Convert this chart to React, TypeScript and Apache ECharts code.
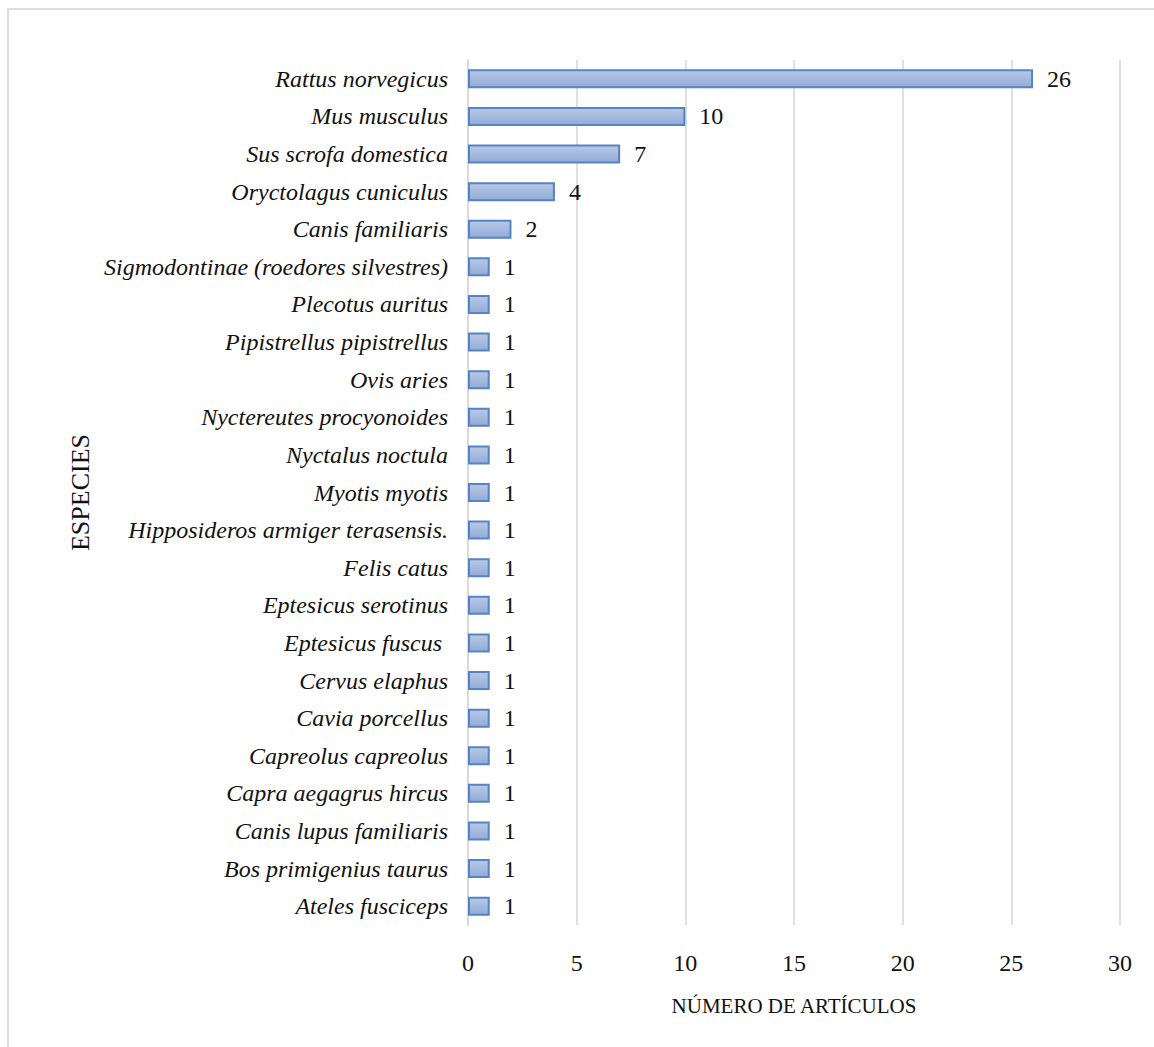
import React, { useEffect, useRef } from "react";
import * as echarts from "echarts";

const categories = [
  "Rattus norvegicus",
  "Mus musculus",
  "Sus scrofa domestica",
  "Oryctolagus cuniculus",
  "Canis familiaris",
  "Sigmodontinae (roedores silvestres)",
  "Plecotus auritus",
  "Pipistrellus pipistrellus",
  "Ovis aries",
  "Nyctereutes procyonoides",
  "Nyctalus noctula",
  "Myotis myotis",
  "Hipposideros armiger terasensis.",
  "Felis catus",
  "Eptesicus serotinus",
  "Eptesicus fuscus ",
  "Cervus elaphus",
  "Cavia porcellus",
  "Capreolus capreolus",
  "Capra aegagrus hircus",
  "Canis lupus familiaris",
  "Bos primigenius taurus",
  "Ateles fusciceps",
];

const articleCounts = [26, 10, 7, 4, 2, 1, 1, 1, 1, 1, 1, 1, 1, 1, 1, 1, 1, 1, 1, 1, 1, 1, 1];

const xTitle = "NÚMERO DE ARTÍCULOS";
const yTitle = "ESPECIES";

export default function App() {
  const ref = useRef<HTMLDivElement>(null);
  useEffect(() => {
    if (!ref.current) return;
    const chart = echarts.init(ref.current, null, { renderer: "svg" });
    const serif = "'Liberation Serif', 'DejaVu Serif', serif";
    chart.setOption({
      animation: false,
      backgroundColor: "#ffffff",
      graphic: [
        {
          type: "rect",
          shape: { x: 8, y: 9, width: 1300, height: 1200 },
          style: { fill: "none", stroke: "#dedede", lineWidth: 2 },
          silent: true,
        },
      ],
      grid: { left: 468, right: 34, top: 60, bottom: 122, containLabel: false },
      xAxis: {
        type: "value",
        min: 0,
        max: 30,
        interval: 5,
        name: xTitle,
        nameLocation: "middle",
        nameGap: 70,
        nameTextStyle: { fontFamily: serif, fontSize: 21, color: "#111" },
        axisLine: { show: false },
        axisTick: { show: false },
        axisLabel: { fontFamily: serif, fontSize: 24, color: "#111", margin: 26 },
        splitLine: { show: true, lineStyle: { color: "#e0e0e0", width: 2 } },
      },
      yAxis: {
        type: "category",
        data: categories,
        inverse: true,
        name: yTitle,
        nameLocation: "middle",
        nameRotate: 90,
        nameGap: 372,
        nameTextStyle: { fontFamily: serif, fontSize: 26, color: "#111" },
        axisLine: { show: true, lineStyle: { color: "#d9d9d9", width: 2 } },
        axisTick: { show: false },
        axisLabel: {
          fontFamily: serif,
          fontStyle: "italic",
          fontSize: 24,
          color: "#111",
          margin: 20,
        },
      },
      series: [
        {
          type: "bar",
          data: articleCounts,
          barWidth: 19,
          itemStyle: {
            color: {
              type: "linear",
              x: 0,
              y: 0,
              x2: 0,
              y2: 1,
              colorStops: [
                { offset: 0, color: "#b9c9e6" },
                { offset: 1, color: "#91abd7" },
              ],
            },
            borderColor: "#5683c3",
            borderWidth: 2,
          },
          label: {
            show: true,
            position: "right",
            distance: 14,
            fontFamily: serif,
            fontSize: 24,
            color: "#111",
          },
        },
      ],
    });
    return () => chart.dispose();
  }, []);
  return (
    <div
      ref={ref}
      style={{ position: "absolute", left: 0, top: 0, width: 1154, height: 1047 }}
    />
  );
}
